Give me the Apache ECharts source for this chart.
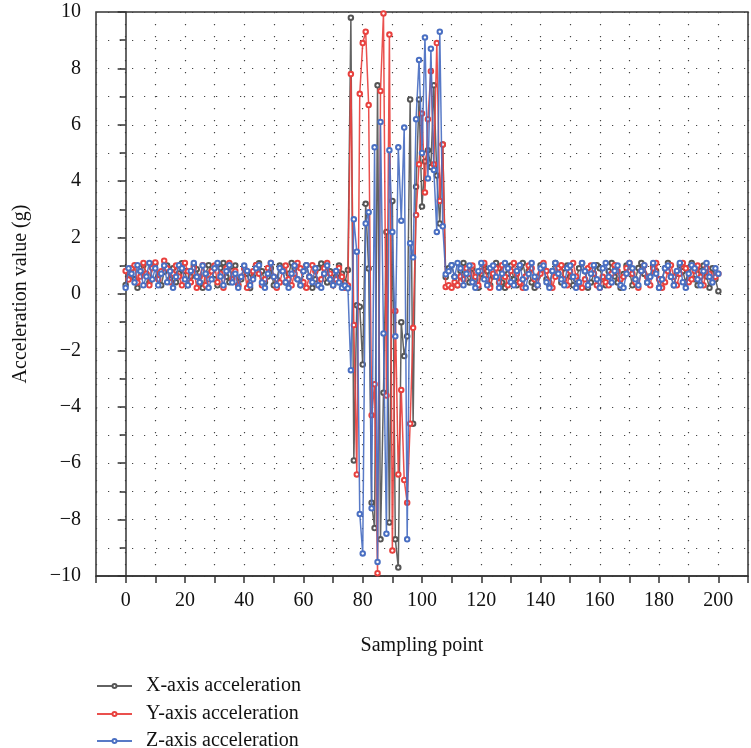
<!DOCTYPE html>
<html>
<head>
<meta charset="utf-8">
<script src="https://cdn.jsdelivr.net/npm/echarts@6/dist/echarts.min.js"></script>
<style>html,body{margin:0;padding:0;background:#fff;}#c{width:751px;height:748px;}</style>
</head>
<body>
<div id="c"></div>
<script>
// Sampling point index 0..200 (one value per sampling point)
var seriesNames = ['X-axis acceleration', 'Y-axis acceleration', 'Z-axis acceleration'];
var xTickLabels = [0, 20, 40, 60, 80, 100, 120, 140, 160, 180, 200];
var yTickLabels = [-10, -8, -6, -4, -2, 0, 2, 4, 6, 8, 10];

var xAccel = [
0.32,0.61,0.88,0.52,0.22,0.81,1.02,0.71,0.41,0.93,
1.08,0.62,0.31,0.79,1.01,0.52,0.91,0.42,0.73,1.09,
0.82,0.31,0.62,1.01,0.88,0.41,0.22,0.71,1.02,0.81,
0.52,0.31,0.92,1.1,0.61,0.42,0.83,1.01,0.32,0.52,
0.91,0.72,0.21,0.61,1.02,1.09,0.81,0.42,0.62,0.91,
0.31,0.52,1.01,0.82,0.41,0.72,1.1,0.91,0.52,0.31,
0.82,1.02,0.61,0.22,0.52,0.92,1.08,0.71,0.41,0.81,
0.32,0.61,1.01,0.72,0.41,
0.85,9.8,-5.9,-0.4,-0.45,-2.5,3.2,0.9,-7.4,-8.3,
7.4,-8.7,-3.5,2.2,-8.1,3.3,-8.7,-9.7,-1.0,-2.2,
-1.5,6.9,-4.6,3.8,6.9,3.1,4.7,5.1,4.5,7.4,
4.2,2.5,5.3,0.6,
0.91,1.02,0.61,0.31,0.82,1.1,0.72,0.41,0.91,0.52,
0.22,0.71,1.02,0.81,0.31,0.62,1.1,0.91,0.41,0.22,
0.72,1.01,0.52,0.31,0.92,1.1,0.61,0.82,0.41,0.22,
0.61,1.02,0.91,0.52,0.31,0.82,1.1,0.72,0.41,0.91,
1.01,0.62,0.31,0.52,0.91,1.09,0.81,0.22,0.41,0.72,
1.02,0.91,0.52,0.31,0.81,1.1,0.62,0.41,0.22,0.71,
1.01,0.82,0.31,0.52,0.92,1.1,0.71,0.41,0.62,1.01,
0.82,0.22,0.52,0.91,1.1,0.61,0.31,0.72,1.02,0.81,
0.41,0.92,1.1,0.52,0.31,0.82,1.01,0.62,0.22,0.91,
0.52,0.1
];

var yAccel = [
0.82,0.51,0.91,1.02,0.41,0.62,1.1,0.72,0.31,0.92,
1.12,0.52,0.81,1.18,0.91,0.42,0.72,1.01,0.62,0.31,
1.1,0.81,0.42,0.92,0.22,0.61,1.02,0.31,0.52,0.81,
1.01,0.42,0.72,0.22,0.91,1.1,0.52,0.82,0.31,0.61,
0.91,0.22,0.42,0.81,1.02,0.72,0.31,0.52,0.92,1.1,
0.61,0.22,0.41,0.82,1.01,0.52,0.31,0.72,1.1,0.91,
0.42,0.22,0.61,1.02,0.81,0.31,0.52,0.91,1.1,0.72,
0.31,0.52,0.92,0.61,0.22,
0.3,7.8,-1.1,-6.4,7.1,8.9,9.3,6.7,-4.3,-3.2,
-9.9,7.2,9.95,-3.6,9.2,-9.1,-0.6,-6.4,-3.4,-6.6,
-7.4,-4.6,-1.2,2.8,4.6,6.4,3.6,6.2,7.9,4.6,
8.9,3.3,5.3,0.25,
0.31,0.22,0.42,0.31,0.62,0.52,0.91,0.72,1.01,0.61,
0.31,0.82,1.1,0.52,0.22,0.72,0.91,0.41,1.02,0.61,
0.31,0.82,1.1,0.72,0.41,0.22,0.62,1.01,0.91,0.52,
0.31,0.72,1.1,0.82,0.41,0.22,0.61,0.92,1.02,0.52,
0.31,0.81,1.1,0.62,0.41,0.22,0.52,0.91,1.01,0.72,
0.31,0.22,0.61,0.42,0.31,0.72,1.02,0.81,0.52,0.61,
0.92,1.1,0.72,0.41,0.22,0.82,1.01,0.61,0.31,0.91,
1.1,0.52,0.22,0.42,0.81,1.02,0.61,0.31,0.72,1.1,
0.91,0.42,0.52,0.82,1.01,0.61,0.31,0.92,0.72,0.52,
0.61,0.72
];

var zAccel = [
0.22,0.91,0.72,0.41,1.02,0.81,0.31,0.62,1.1,0.52,
0.91,0.31,0.72,1.01,0.42,0.81,0.22,0.61,1.02,0.91,
0.52,0.31,0.82,1.1,0.61,0.42,1.01,0.72,0.22,0.52,
0.91,1.1,0.62,0.31,0.81,1.02,0.41,0.72,0.22,0.61,
1.01,0.82,0.31,0.52,0.91,1.02,0.41,0.22,0.72,1.1,
0.61,0.31,0.92,0.81,0.42,0.22,0.72,1.01,0.52,0.31,
0.81,1.02,0.61,0.42,0.91,0.31,0.22,0.72,1.01,0.52,
0.31,0.82,0.41,0.22,0.3,
0.2,-2.7,2.65,1.5,-7.8,-9.2,2.5,2.9,-7.6,5.2,
-9.5,6.1,-1.4,-8.5,5.1,2.2,-1.5,5.2,2.6,5.9,
-8.7,1.8,1.3,6.2,8.3,5.0,9.1,4.1,8.7,4.4,
2.2,9.3,2.4,0.7,
0.81,1.02,0.61,1.1,0.91,0.31,0.72,1.01,0.42,0.22,
0.81,1.1,0.52,0.31,0.92,1.01,0.61,0.22,0.72,1.1,
0.91,0.42,0.31,0.82,1.02,0.52,0.22,0.71,1.1,0.61,
0.31,0.91,1.01,0.42,0.22,0.82,1.1,0.72,0.52,0.31,
0.92,1.01,0.61,0.22,0.42,1.1,0.81,0.31,0.72,1.02,
0.52,0.22,0.91,1.1,0.61,0.41,0.82,1.01,0.31,0.22,
0.72,1.1,0.91,0.52,0.31,0.82,1.02,0.41,0.61,1.1,
0.72,0.22,0.52,0.91,1.01,0.61,0.31,0.82,1.1,0.42,
0.22,0.72,1.02,0.91,0.52,0.31,0.81,1.1,0.61,0.41,
0.91,0.72
];

var colors = ['#555555', '#e8413e', '#4a6fc2'];
var FONT = 'Liberation Serif';
var FS = 20;

function pairs(arr) { return arr.map(function (v, i) { return [i, v]; }); }
var allData = [xAccel, yAccel, zAccel];

var chart = echarts.init(document.getElementById('c'), null, { renderer: 'canvas' });
var dotted = { color: '#444', width: 1.2, type: [1.2, 10.8] };
var legendTops = [676, 704, 731];
chart.setOption({
  animation: false,
  backgroundColor: '#fff',
  grid: { left: 96, top: 12, width: 663, height: 564, show: true, borderColor: '#333', borderWidth: 1.5, backgroundColor: 'transparent' },
  xAxis: {
    type: 'value', min: -10, max: 210, interval: 10,
    name: 'Sampling point', nameLocation: 'middle', nameGap: 60,
    nameTextStyle: { fontFamily: FONT, fontSize: FS, color: '#111' },
    axisLine: { show: true, onZero: false, lineStyle: { color: '#333', width: 1.5 } },
    axisTick: { show: true, length: 7, lineStyle: { color: '#333', width: 1.5 } },
    axisLabel: {
      fontFamily: FONT, fontSize: FS, color: '#111', margin: 15,
      formatter: function (v) { return xTickLabels.indexOf(v) >= 0 ? String(v) : ''; }
    },
    splitLine: { show: true, lineStyle: dotted }
  },
  yAxis: {
    type: 'value', min: -10, max: 10, interval: 2,
    name: 'Acceleration value (g)', nameLocation: 'middle', nameGap: 65,
    nameTextStyle: { fontFamily: FONT, fontSize: FS, color: '#111' },
    axisLine: { show: true, lineStyle: { color: '#333', width: 1.5 } },
    axisTick: { show: true, length: 8, lineStyle: { color: '#333', width: 1.5 } },
    minorTick: { show: true, splitNumber: 2, length: 6, lineStyle: { color: '#333', width: 1.5 } },
    axisLabel: {
      fontFamily: FONT, fontSize: FS, color: '#111', margin: 15,
      formatter: function (v) { return yTickLabels.indexOf(v) >= 0 ? (v < 0 ? '\u2212' + Math.abs(v) : String(v)) : ''; }
    },
    splitLine: { show: true, lineStyle: dotted },
    minorSplitLine: { show: true, lineStyle: dotted }
  },
  legend: seriesNames.map(function (n, k) {
    return {
      orient: 'vertical', left: 96, top: legendTops[k], padding: 0,
      itemWidth: 35, itemHeight: 5,
      textStyle: { fontFamily: FONT, fontSize: FS, color: '#111', padding: [0, 0, 0, 9] },
      data: [n]
    };
  }),
  series: seriesNames.map(function (n, k) {
    return {
      name: n, type: 'line', data: pairs(allData[k]),
      color: colors[k],
      symbol: 'emptyCircle', symbolSize: 4.5,
      itemStyle: { color: colors[k], borderWidth: 1 },
      lineStyle: { width: 1.5, color: colors[k], opacity: 0.92 },
      z: 2 + k
    };
  })
});
</script>
</body>
</html>
